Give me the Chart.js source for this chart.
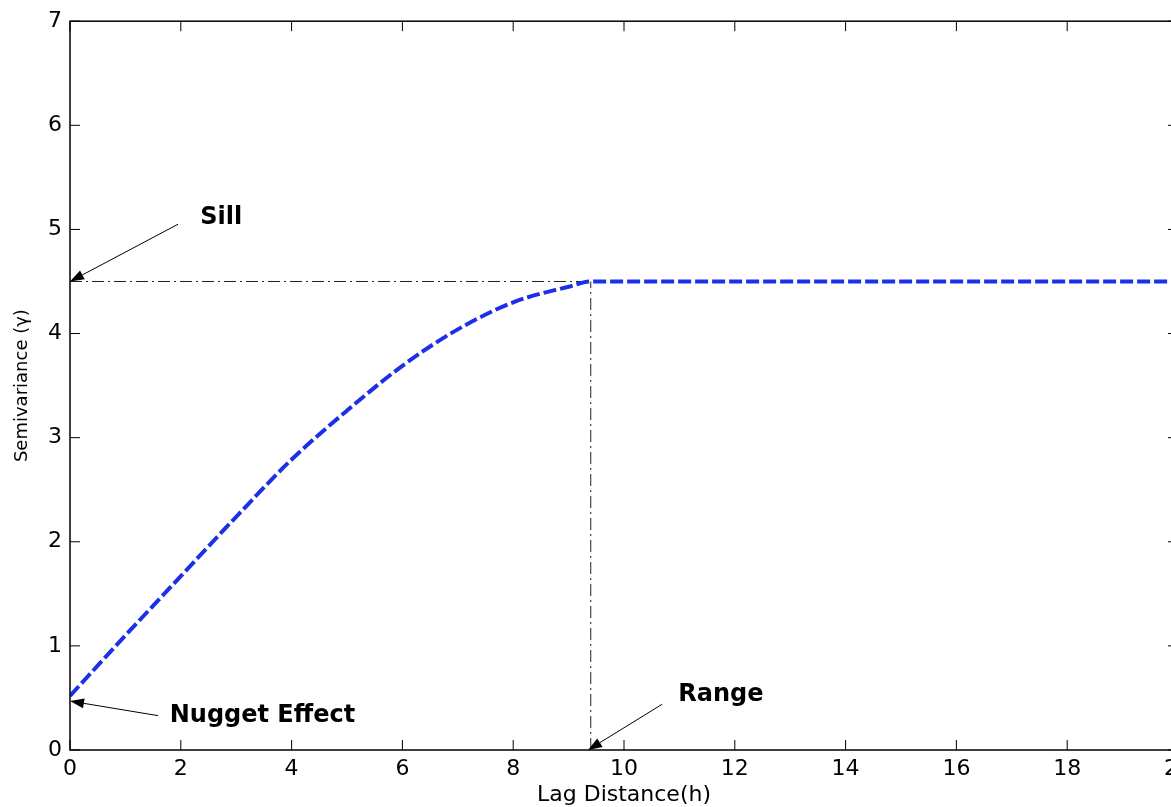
<!DOCTYPE html>
<html>
<head>
<meta charset="utf-8">
<title>Semivariogram</title>
<script src="https://cdn.jsdelivr.net/npm/chart.js@4.4.0/dist/chart.umd.min.js"></script>
<style>
    html, body { margin: 0; padding: 0; background: #fff; }
    #wrap { width: 1171px; height: 807px; overflow: hidden; }
</style>
</head>
<body>
<div id="wrap"><canvas id="chartVariogram" width="1200" height="807"></canvas></div>
<script>
// values
const lagDistance = [0, 1, 2, 3, 4, 5, 6, 7, 8, 9, 9.4, 20];
const semivariance = [0.52, 1.1, 1.67, 2.24, 2.79, 3.26, 3.69, 4.04, 4.3, 4.45, 4.5, 4.5];
const nugget = 0.5;
const sill = 4.5;
const range = 9.4;
const xTicks = [0, 2, 4, 6, 8, 10, 12, 14, 16, 18, 20];
const yTicks = [0, 1, 2, 3, 4, 5, 6, 7];

// callouts: arrow from (fx,fy) to (tx,ty), label anchored at (lx,ly), data units
const callouts = [
    { text: 'Sill', fx: 1.95, fy: 5.05, tx: 0, ty: sill, lx: 2.35, ly: 5.11 },
    { text: 'Nugget Effect', fx: 1.59, fy: 0.33, tx: 0, ty: nugget - 0.03, lx: 1.8, ly: 0.33 },
    { text: 'Range', fx: 10.69, fy: 0.44, tx: range - 0.05, ty: 0, lx: 10.98, ly: 0.53 }
];

Chart.defaults.font.family = 'DejaVu Sans';
Chart.defaults.color = '#000';

const curvePoints = lagDistance.map((x, i) => ({ x: x, y: semivariance[i] }));

const frameBox = {
    id: 'frameBox',
    afterDraw(chart) {
        const { ctx, chartArea: a, scales: { x, y } } = chart;
        ctx.save();
        ctx.strokeStyle = '#000';
        ctx.lineWidth = 1.5;
        ctx.strokeRect(a.left, a.top, a.right - a.left, a.bottom - a.top);
        ctx.lineWidth = 1;
        ctx.beginPath();
        xTicks.forEach(v => {
            const px = x.getPixelForValue(v);
            ctx.moveTo(px, a.bottom); ctx.lineTo(px, a.bottom - 10);
            ctx.moveTo(px, a.top); ctx.lineTo(px, a.top + 10);
        });
        yTicks.forEach(v => {
            const py = y.getPixelForValue(v);
            ctx.moveTo(a.left, py); ctx.lineTo(a.left + 10, py);
            ctx.moveTo(a.right, py); ctx.lineTo(a.right - 10, py);
        });
        ctx.stroke();

        // arrows and labels
        ctx.fillStyle = '#000';
        ctx.lineWidth = 1;
        callouts.forEach(c => {
            const x1 = x.getPixelForValue(c.fx), y1 = y.getPixelForValue(c.fy);
            const x2 = x.getPixelForValue(c.tx), y2 = y.getPixelForValue(c.ty);
            const ang = Math.atan2(y2 - y1, x2 - x1);
            const len = 14, half = 5;
            const bx = x2 - len * Math.cos(ang), by = y2 - len * Math.sin(ang);
            ctx.beginPath();
            ctx.moveTo(x1, y1); ctx.lineTo(bx, by);
            ctx.stroke();
            ctx.beginPath();
            ctx.moveTo(x2, y2);
            ctx.lineTo(bx + half * Math.sin(ang), by - half * Math.cos(ang));
            ctx.lineTo(bx - half * Math.sin(ang), by + half * Math.cos(ang));
            ctx.closePath();
            ctx.fill();

            ctx.font = 'bold 24px "DejaVu Sans"';
            ctx.textAlign = 'left';
            ctx.textBaseline = 'middle';
            ctx.fillText(c.text, x.getPixelForValue(c.lx), y.getPixelForValue(c.ly));
        });
        ctx.restore();
    }
};

new Chart(document.getElementById('chartVariogram').getContext('2d'), {
    type: 'line',
    data: {
        datasets: [{
            label: 'Model',
            data: curvePoints,
            borderColor: 'rgb(28, 48, 232)',
            borderWidth: 4,
            borderDash: [13, 4],
            cubicInterpolationMode: 'monotone',
            pointRadius: 0,
            fill: false
        }, {
            label: 'Sill',
            data: [{ x: 0, y: sill }, { x: range, y: sill }],
            borderColor: '#222',
            borderWidth: 1,
            borderDash: [12, 4, 2, 4],
            pointRadius: 0,
            fill: false
        }, {
            label: 'Range',
            data: [{ x: range, y: 0 }, { x: range, y: sill }],
            borderColor: '#222',
            borderWidth: 1,
            borderDash: [12, 4, 2, 4],
            pointRadius: 0,
            fill: false
        }]
    },
    options: {
        responsive: false,
        animation: false,
        layout: { padding: { top: 17, right: 22, left: 0, bottom: 0 } },
        plugins: {
            legend: { display: false },
            tooltip: { enabled: false }
        },
        scales: {
            x: {
                type: 'linear',
                min: 0,
                max: 20,
                afterBuildTicks: s => { s.ticks = xTicks.map(v => ({ value: v })); },
                afterFit: s => { s.height = 57; },
                grid: { display: false, drawTicks: false },
                border: { display: false },
                ticks: { font: { size: 22 }, padding: 6, maxRotation: 0 },
                title: {
                    display: true,
                    text: 'Lag Distance(h)',
                    font: { size: 22, lineHeight: 1 },
                    padding: { top: 0, bottom: 1 }
                }
            },
            y: {
                type: 'linear',
                min: 0,
                max: 7,
                afterBuildTicks: s => { s.ticks = yTicks.map(v => ({ value: v })); },
                afterFit: s => { s.width = 70; },
                grid: { display: false, drawTicks: false },
                border: { display: false },
                ticks: { font: { size: 22 }, padding: 8 },
                title: {
                    display: true,
                    text: 'Semivariance (γ)',
                    font: { size: 18, lineHeight: 1 },
                    padding: { top: 13, bottom: 0 }
                }
            }
        }
    },
    plugins: [frameBox]
});
</script>
</body>
</html>
